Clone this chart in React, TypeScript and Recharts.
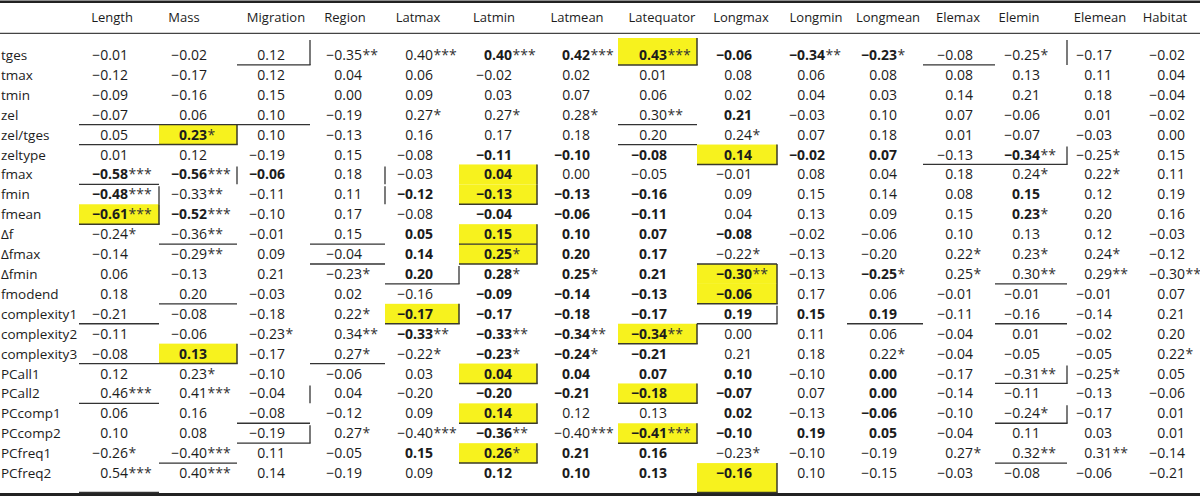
import React from 'react'
import { ScatterChart, Scatter, XAxis, YAxis } from 'recharts'

// rows / columns of the correlation table
const ROWS = ['tges', 'tmax', 'tmin', 'zel', 'zel/tges', 'zeltype', 'fmax', 'fmin', 'fmean', 'Δf', 'Δfmax', 'Δfmin', 'fmodend', 'complexity1', 'complexity2', 'complexity3', 'PCall1', 'PCall2', 'PCcomp1', 'PCcomp2', 'PCfreq1', 'PCfreq2']
const COLUMNS = ['Length', 'Mass', 'Migration', 'Region', 'Latmax', 'Latmin', 'Latmean', 'Latequator', 'Longmax', 'Longmin', 'Longmean', 'Elemax', 'Elemin', 'Elemean', 'Habitat']

// correlation coefficients, stars = significance level
const tges = ['-0.01', '-0.02', '0.12', '-0.35**', '0.40***', '0.40***', '0.42***', '0.43***', '-0.06', '-0.34**', '-0.23*', '-0.08', '-0.25*', '-0.17', '-0.02']
const tmax = ['-0.12', '-0.17', '0.12', '0.04', '0.06', '-0.02', '0.02', '0.01', '0.08', '0.06', '0.08', '0.08', '0.13', '0.11', '0.04']
const tmin = ['-0.09', '-0.16', '0.15', '0.00', '0.09', '0.03', '0.07', '0.06', '0.02', '0.04', '0.03', '0.14', '0.21', '0.18', '-0.04']
const zel = ['-0.07', '0.06', '0.10', '-0.19', '0.27*', '0.27*', '0.28*', '0.30**', '0.21', '-0.03', '0.10', '0.07', '-0.06', '0.01', '-0.02']
const zelTges = ['0.05', '0.23*', '0.10', '-0.13', '0.16', '0.17', '0.18', '0.20', '0.24*', '0.07', '0.18', '0.01', '-0.07', '-0.03', '0.00']
const zeltype = ['0.01', '0.12', '-0.19', '0.15', '-0.08', '-0.11', '-0.10', '-0.08', '0.14', '-0.02', '0.07', '-0.13', '-0.34**', '-0.25*', '0.15']
const fmax = ['-0.58***', '-0.56***', '-0.06', '0.18', '-0.03', '0.04', '0.00', '-0.05', '-0.01', '0.08', '0.04', '0.18', '0.24*', '0.22*', '0.11']
const fmin = ['-0.48***', '-0.33**', '-0.11', '0.11', '-0.12', '-0.13', '-0.13', '-0.16', '0.09', '0.15', '0.14', '0.08', '0.15', '0.12', '0.19']
const fmean = ['-0.61***', '-0.52***', '-0.10', '0.17', '-0.08', '-0.04', '-0.06', '-0.11', '0.04', '0.13', '0.09', '0.15', '0.23*', '0.20', '0.16']
const df = ['-0.24*', '-0.36**', '-0.01', '0.15', '0.05', '0.15', '0.10', '0.07', '-0.08', '-0.02', '-0.06', '0.10', '0.13', '0.12', '-0.03']
const dfmax = ['-0.14', '-0.29**', '0.09', '-0.04', '0.14', '0.25*', '0.20', '0.17', '-0.22*', '-0.13', '-0.20', '0.22*', '0.23*', '0.24*', '-0.12']
const dfmin = ['0.06', '-0.13', '0.21', '-0.23*', '0.20', '0.28*', '0.25*', '0.21', '-0.30**', '-0.13', '-0.25*', '0.25*', '0.30**', '0.29**', '-0.30**']
const fmodend = ['0.18', '0.20', '-0.03', '0.02', '-0.16', '-0.09', '-0.14', '-0.13', '-0.06', '0.17', '0.06', '-0.01', '-0.01', '-0.01', '0.07']
const complexity1 = ['-0.21', '-0.08', '-0.18', '0.22*', '-0.17', '-0.17', '-0.18', '-0.17', '0.19', '0.15', '0.19', '-0.11', '-0.16', '-0.14', '0.21']
const complexity2 = ['-0.11', '-0.06', '-0.23*', '0.34**', '-0.33**', '-0.33**', '-0.34**', '-0.34**', '0.00', '0.11', '0.06', '-0.04', '0.01', '-0.02', '0.20']
const complexity3 = ['-0.08', '0.13', '-0.17', '0.27*', '-0.22*', '-0.23*', '-0.24*', '-0.21', '0.21', '0.18', '0.22*', '-0.04', '-0.05', '-0.05', '0.22*']
const pcall1 = ['0.12', '0.23*', '-0.10', '-0.06', '0.03', '0.04', '0.04', '0.07', '0.10', '-0.10', '0.00', '-0.17', '-0.31**', '-0.25*', '0.05']
const pcall2 = ['0.46***', '0.41***', '-0.04', '0.04', '-0.20', '-0.20', '-0.21', '-0.18', '-0.07', '0.07', '0.00', '-0.14', '-0.11', '-0.13', '-0.06']
const pccomp1 = ['0.06', '0.16', '-0.08', '-0.12', '0.09', '0.14', '0.12', '0.13', '0.02', '-0.13', '-0.06', '-0.10', '-0.24*', '-0.17', '0.01']
const pccomp2 = ['0.10', '0.08', '-0.19', '0.27*', '-0.40***', '-0.36**', '-0.40***', '-0.41***', '-0.10', '0.19', '0.05', '-0.04', '0.11', '0.03', '0.01']
const pcfreq1 = ['-0.26*', '-0.40***', '0.11', '-0.05', '0.15', '0.26*', '0.21', '0.16', '-0.23*', '-0.10', '-0.19', '0.27*', '0.32**', '0.31**', '-0.14']
const pcfreq2 = ['0.54***', '0.40***', '0.14', '-0.19', '0.09', '0.12', '0.10', '0.13', '-0.16', '0.10', '-0.15', '-0.03', '-0.08', '-0.06', '-0.21']

const VALUES = [tges, tmax, tmin, zel, zelTges, zeltype, fmax, fmin, fmean, df, dfmax, dfmin, fmodend,
  complexity1, complexity2, complexity3, pcall1, pcall2, pccomp1, pccomp2, pcfreq1, pcfreq2]

// emphasis per cell: . normal, b bold, y bold + highlighted
const EMPHASIS = [
  '.....bbybbb....',
  '...............',
  '...............',
  '........b......',
  '.y.............',
  '.....bbbybb.b..',
  'bbb..y.........',
  'b...bybb....b..',
  'yb...bbb....b..',
  '....bybbb......',
  '....bybb.......',
  '....bbbby.b....',
  '.....bbby......',
  '....ybbbbbb....',
  '....bbby.......',
  '.y...bbb.......',
  '.....ybbb.b....',
  '.....bbyb.b....',
  '.....y..b.b....',
  '.....b.ybbb....',
  '....bybb.......',
  '.....bbby......',
]

// ruled cell edges: [row, column, sides] (b = bottom, r = right)
const RULES: [number, number, string][] = [
  [0, 2, 'br'], [0, 11, 'b'], [0, 12, 'r'],
  [3, 0, 'b'], [3, 1, 'b'], [3, 2, 'b'], [3, 7, 'b'],
  [4, 0, 'b'], [4, 7, 'b'],
  [5, 11, 'b'], [5, 12, 'br'],
  [6, 0, 'b'], [6, 1, 'r'], [6, 3, 'r'],
  [7, 0, 'r'], [7, 3, 'r'],
  [9, 1, 'b'], [9, 3, 'b'], [9, 5, 'b'],
  [10, 3, 'b'], [10, 8, 'b'],
  [11, 4, 'br'], [11, 12, 'b'],
  [12, 1, 'b'],
  [13, 0, 'b'], [13, 8, 'br'], [13, 10, 'b'], [13, 12, 'b'],
  [15, 0, 'b'], [15, 3, 'b'],
  [16, 12, 'br'],
  [17, 0, 'b'], [17, 2, 'r'],
  [18, 2, 'b'], [18, 12, 'br'],
  [19, 2, 'br'],
  [20, 1, 'b'], [20, 12, 'b'],
  [21, 0, 'b'],
]

// layout
const W = 1200
const H = 496
const LABEL_W = 79
const COL_W = [80, 78, 73, 75, 74, 78, 81, 79, 80, 70, 76, 72, 72, 70, 63]
const NUM_AT = [49, 48, 48, 52, 48, 53, 53, 49, 55, 48, 50, 50, 45, 45, 48]
const HEAD_AT = [33, 25, 39, 35, 33, 35, 40, 44, 44, 39, 41, 35, 24, 33, 28]
const COL_X = COL_W.map((_, i) => COL_W.slice(0, i).reduce((a, b) => a + b, 0))
const TOTAL = COL_W.reduce((a, b) => a + b, 0)
const HEAD_X = COL_X.map((x, i) => x + HEAD_AT[i])
const MARGIN = { top: 15, right: 0, bottom: 13, left: 0 }
const XAXIS_H = 30
const BAND = (H - MARGIN.top - XAXIS_H - MARGIN.bottom) / ROWS.length
const FONT = '"Open Sans", "Noto Sans", sans-serif'
const INK = '#1c1c1c'
const YELLOW = '#f7f21e'
const LAST = ROWS.length - 1

const ruleMap = new Map(RULES.map(([r, c, s]) => [`${r}-${c}`, s]))

const cells = ROWS.flatMap((row, r) =>
  VALUES[r].map((v, c) => ({
    x: COL_X[c] + NUM_AT[c],
    row, r, c, v,
    em: EMPHASIS[r][c],
    rules: ruleMap.get(`${r}-${c}`) || '',
    shadowBottom: EMPHASIS[r + 1]?.[c] !== 'y',
  }))
)

function edges(cx: number, cy: number, r: number, c: number) {
  const left = cx - NUM_AT[c]
  return {
    left,
    right: left + COL_W[c],
    top: cy - BAND / 2 - (r === 0 ? 7 : 0),
    bottom: cy + BAND / 2 + (r === LAST ? 9.5 : 0),
  }
}

function HighlightShape(props: any) {
  const { cx, cy, payload } = props
  if (payload.em !== 'y') return <g />
  const e = edges(cx, cy, payload.r, payload.c)
  return (
    <g>
      <rect x={e.left} y={e.top} width={e.right - e.left} height={e.bottom - e.top} fill={YELLOW} />
      <line x1={e.right} x2={e.right} y1={e.top} y2={e.bottom} stroke="#3a3a2a" strokeWidth={1.5} />
      {payload.shadowBottom && (
        <line x1={e.left} x2={e.right + 0.75} y1={e.bottom} y2={e.bottom} stroke="#3a3a2a" strokeWidth={1.5} />
      )}
    </g>
  )
}

function CellShape(props: any) {
  const { cx, cy, payload } = props
  const { v, em, rules, r, c } = payload
  const e = edges(cx, cy, r, c)
  const num = v.replace(/\*+$/, '').replace('-', '−')
  const stars = (v.match(/\*+$/) || [''])[0]
  return (
    <g>
      {rules.includes('b') && (
        <line x1={e.left} x2={e.right + (rules.includes('r') ? 0.6 : 0)} y1={e.bottom} y2={e.bottom} stroke="#333" strokeWidth={1.3} />
      )}
      {rules.includes('r') && (
        <line x1={e.right} x2={e.right} y1={e.top + 2} y2={e.bottom} stroke="#333" strokeWidth={1.3} />
      )}
      <text x={cx} y={cy + 5} textAnchor="end" fontFamily={FONT} fontSize={14}
        fontWeight={em === '.' ? 400 : 700} fill={INK}>{num}</text>
      {stars && (
        <text x={cx + 0.5} y={cy + 5} textAnchor="start" fontFamily={FONT} fontSize={14} fill="#333">{stars}</text>
      )}
    </g>
  )
}

function HeaderTick(props: any) {
  const i = HEAD_X.indexOf(props.payload.value)
  return (
    <text x={props.x} y={22} textAnchor="middle" fontFamily={FONT} fontSize={13} fill={INK}>
      {COLUMNS[i]}
    </text>
  )
}

function RowTick(props: any) {
  return (
    <text x={1} y={props.y + 5} textAnchor="start" fontFamily={FONT} fontSize={13.5} fill={INK}>
      {props.payload.value}
    </text>
  )
}

export default function App() {
  return (
    <div style={{ width: W, height: H, background: '#fff' }}>
      <style>{'body{margin:0;background:#fff}'}</style>
      <ScatterChart width={W} height={H} margin={MARGIN}>
        <XAxis type="number" dataKey="x" orientation="top" domain={[0, TOTAL]} ticks={HEAD_X}
          interval={0} height={XAXIS_H} axisLine={false} tickLine={false} tick={<HeaderTick />} />
        <YAxis type="category" dataKey="row" width={LABEL_W} interval={0} reversed
          allowDuplicatedCategory={false} axisLine={false} tickLine={false} tick={<RowTick />} />
        <Scatter data={cells} shape={<HighlightShape />} isAnimationActive={false} />
        <Scatter data={cells} shape={<CellShape />} isAnimationActive={false} />
        <line x1={0} x2={W} y1={1.8} y2={1.8} stroke="#222" strokeWidth={2.6} />
        <line x1={0} x2={W} y1={33.3} y2={33.3} stroke="#444" strokeWidth={1.2} />
        <line x1={0} x2={W} y1={494.6} y2={494.6} stroke="#222" strokeWidth={3} />
      </ScatterChart>
    </div>
  )
}
